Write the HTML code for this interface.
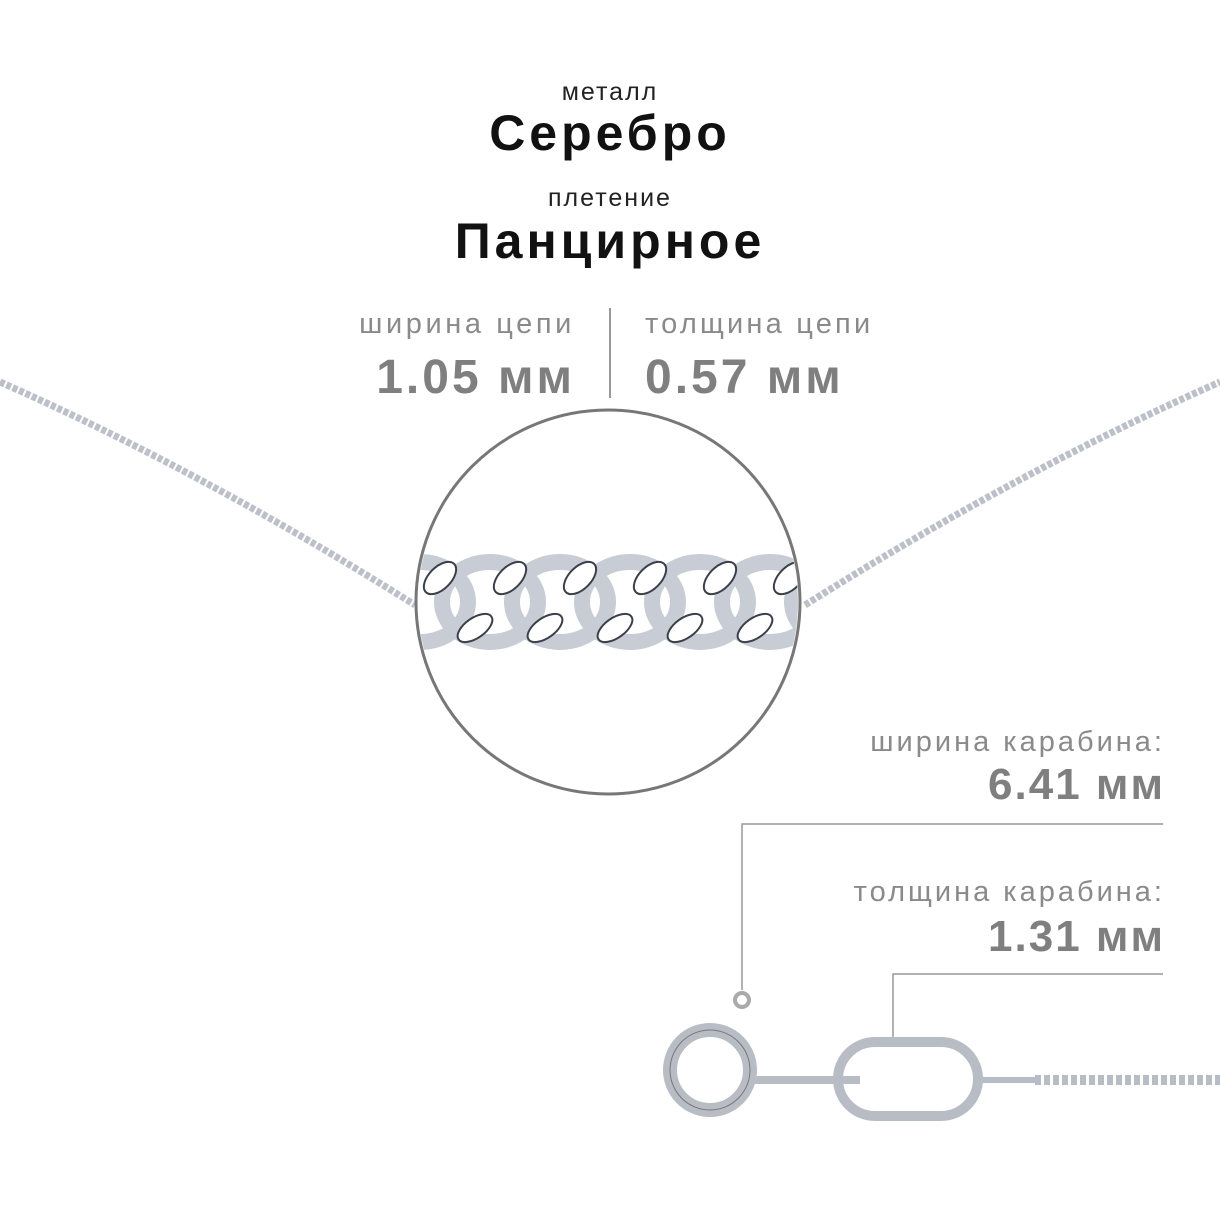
<!DOCTYPE html><html><head><meta charset="utf-8"><style>
body{margin:0;width:1220px;height:1220px;background:#fff;overflow:hidden;position:relative;font-family:"Liberation Sans","DejaVu Sans",sans-serif}
.t{position:absolute;white-space:nowrap}
.c{left:0;width:1220px;text-align:center}
</style></head><body>
<div class="t c" style="top:78px;font-size:25px;color:#222;letter-spacing:2px">металл</div>
<div class="t c" style="top:104px;font-size:50px;font-weight:bold;color:#111;letter-spacing:4px">Серебро</div>
<div class="t c" style="top:184px;font-size:25px;color:#222;letter-spacing:2px">плетение</div>
<div class="t c" style="top:212px;font-size:50px;font-weight:bold;color:#111;letter-spacing:4px">Панцирное</div>
<div class="t" style="right:645px;top:308px;font-size:29px;color:#8a8a8a;letter-spacing:3.6px">ширина цепи</div>
<div class="t" style="right:645px;top:350px;font-size:48px;font-weight:bold;color:#7f7f7f;letter-spacing:3px">1.05 мм</div>
<div class="t" style="left:645px;top:308px;font-size:29px;color:#8a8a8a;letter-spacing:3.2px">толщина цепи</div>
<div class="t" style="left:645px;top:350px;font-size:48px;font-weight:bold;color:#7f7f7f;letter-spacing:3px">0.57 мм</div>
<div class="t" style="right:55px;top:726px;font-size:29px;color:#8a8a8a;letter-spacing:3px">ширина карабина:</div>
<div class="t" style="right:55px;top:760px;font-size:44px;font-weight:bold;color:#7f7f7f;letter-spacing:2px">6.41 мм</div>
<div class="t" style="right:55px;top:876px;font-size:29px;color:#8a8a8a;letter-spacing:3px">толщина карабина:</div>
<div class="t" style="right:55px;top:912px;font-size:44px;font-weight:bold;color:#7f7f7f;letter-spacing:2px">1.31 мм</div>
<svg width="1220" height="1220" style="position:absolute;left:0;top:0">
<line x1="610" y1="308" x2="610" y2="398" stroke="#999" stroke-width="2"/>
<path d="M0 382 Q200 470 415 605" fill="none" stroke="#bcc0c8" stroke-width="7" stroke-dasharray="5 2"/>
<path d="M805 605 Q1020 470 1220 382" fill="none" stroke="#bcc0c8" stroke-width="7" stroke-dasharray="5 2"/>
<circle cx="608" cy="602" r="192" fill="#fff" stroke="#777" stroke-width="3"/>
<clipPath id="cp"><circle cx="608" cy="602" r="190"/></clipPath>
<g clip-path="url(#cp)" fill="none">
<g stroke="#c8ccd4" stroke-width="16">
<ellipse cx="420" cy="602" rx="48" ry="40"/><ellipse cx="490" cy="602" rx="48" ry="40"/><ellipse cx="560" cy="602" rx="48" ry="40"/><ellipse cx="630" cy="602" rx="48" ry="40"/><ellipse cx="700" cy="602" rx="48" ry="40"/><ellipse cx="770" cy="602" rx="48" ry="40"/><ellipse cx="840" cy="602" rx="48" ry="40"/>
</g>
<g fill="#fff" stroke="#3a3f4a" stroke-width="2">
<ellipse cx="440" cy="578" rx="20" ry="11" transform="rotate(-45 440 578)"/><ellipse cx="510" cy="578" rx="20" ry="11" transform="rotate(-45 510 578)"/><ellipse cx="580" cy="578" rx="20" ry="11" transform="rotate(-45 580 578)"/><ellipse cx="650" cy="578" rx="20" ry="11" transform="rotate(-45 650 578)"/><ellipse cx="720" cy="578" rx="20" ry="11" transform="rotate(-45 720 578)"/><ellipse cx="790" cy="578" rx="20" ry="11" transform="rotate(-45 790 578)"/>
<ellipse cx="475" cy="628" rx="20" ry="10" transform="rotate(-35 475 628)"/><ellipse cx="545" cy="628" rx="20" ry="10" transform="rotate(-35 545 628)"/><ellipse cx="615" cy="628" rx="20" ry="10" transform="rotate(-35 615 628)"/><ellipse cx="685" cy="628" rx="20" ry="10" transform="rotate(-35 685 628)"/><ellipse cx="755" cy="628" rx="20" ry="10" transform="rotate(-35 755 628)"/>
</g>
</g>
<path d="M742 990 V824 H1163" fill="none" stroke="#999" stroke-width="1.5"/>
<path d="M893 1040 V974 H1163" fill="none" stroke="#999" stroke-width="1.5"/>
<circle cx="742" cy="1000" r="7" fill="none" stroke="#aaa" stroke-width="4"/>
<circle cx="710" cy="1070" r="40" fill="none" stroke="#b8bcc4" stroke-width="14"/>
<circle cx="710" cy="1070" r="40" fill="none" stroke="#777" stroke-width="1"/>
<line x1="755" y1="1080" x2="860" y2="1080" stroke="#b8bcc4" stroke-width="8"/>
<rect x="838" y="1042" width="140" height="74" rx="37" fill="none" stroke="#b8bcc4" stroke-width="10"/>
<line x1="978" y1="1080" x2="1040" y2="1080" stroke="#b8bcc4" stroke-width="6"/>
<line x1="1035" y1="1080" x2="1220" y2="1080" stroke="#b8bcc4" stroke-width="10" stroke-dasharray="6 3"/>
</svg>
</body></html>
